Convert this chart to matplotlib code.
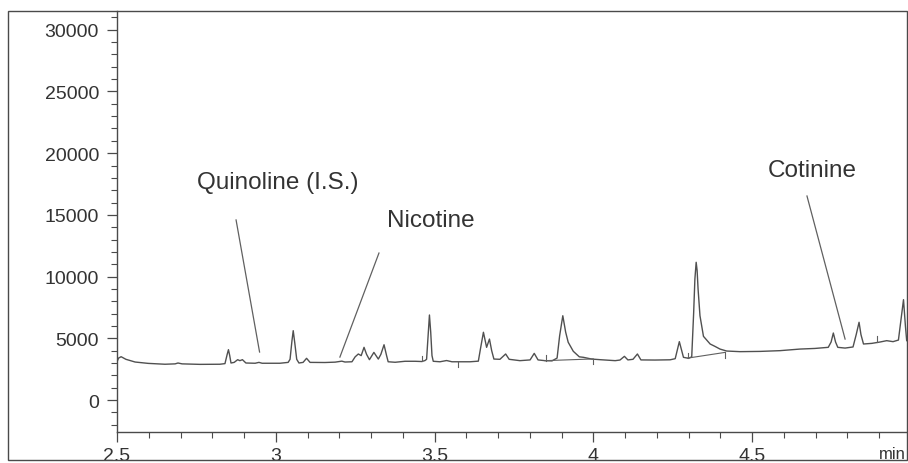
import matplotlib
matplotlib.use("Agg")
import matplotlib.pyplot as plt
from matplotlib.patches import Rectangle
from matplotlib.ticker import MultipleLocator

# detector trace, retention time (min) vs signal
rt = [2.500, 2.505, 2.513, 2.528, 2.557, 2.598, 2.651, 2.683, 2.692, 2.705,
      2.761, 2.824, 2.840, 2.847, 2.851, 2.855, 2.859, 2.869, 2.880, 2.887,
      2.895, 2.906, 2.935, 2.947, 2.957, 3.013, 3.039, 3.045, 3.051, 3.055,
      3.060, 3.066, 3.073, 3.086, 3.097, 3.108, 3.155, 3.187, 3.208, 3.218,
      3.240, 3.250, 3.260, 3.269, 3.278, 3.286, 3.295, 3.309, 3.323, 3.331,
      3.341, 3.349, 3.354, 3.376, 3.407, 3.439, 3.460, 3.470, 3.475, 3.480,
      3.484, 3.488, 3.492, 3.496, 3.517, 3.538, 3.555, 3.612, 3.638, 3.645,
      3.654, 3.664, 3.673, 3.680, 3.687, 3.706, 3.724, 3.735, 3.769, 3.801,
      3.814, 3.826, 3.848, 3.870, 3.886, 3.894, 3.904, 3.913, 3.921, 3.937,
      3.956, 3.969, 3.995, 4.021, 4.069, 4.084, 4.098, 4.109, 4.125, 4.139,
      4.150, 4.194, 4.242, 4.258, 4.271, 4.284, 4.300, 4.310, 4.316, 4.320,
      4.324, 4.327, 4.330, 4.336, 4.347, 4.368, 4.383, 4.399, 4.420, 4.462,
      4.525, 4.588, 4.651, 4.698, 4.740, 4.749, 4.756, 4.763, 4.770, 4.793,
      4.818, 4.828, 4.837, 4.843, 4.851, 4.877, 4.903, 4.924, 4.944, 4.961,
      4.969, 4.977, 4.983, 4.987, 4.991]
signal = [3100, 3400, 3510, 3300, 3080, 2970, 2900, 2930, 3000, 2930,
          2890, 2900, 2950, 3700, 4080, 3600, 3000, 3050, 3270, 3190,
          3270, 3000, 2980, 3050, 2980, 2980, 3050, 3300, 4800, 5620,
          4600, 3300, 3000, 3050, 3380, 3050, 3040, 3070, 3150, 3080,
          3100, 3500, 3730, 3600, 4270, 3700, 3270, 3860, 3320, 3700,
          4480, 3600, 3100, 3060, 3140, 3140, 3120, 3200, 3300, 5300,
          6890, 5500, 3600, 3140, 3100, 3200, 3100, 3100, 3150, 4200,
          5490, 4270, 4940, 4000, 3320, 3300, 3730, 3300, 3190, 3250,
          3780, 3250, 3190, 3170, 3400, 5200, 6830, 5500, 4680, 3950,
          3500, 3460, 3320, 3270, 3190, 3240, 3540, 3250, 3300, 3730,
          3250, 3240, 3260, 3350, 4730, 3460, 3380, 3500, 7000, 9800,
          11160, 10500, 9000, 6830, 5160, 4540, 4350, 4130, 3970, 3920,
          3940, 4000, 4130, 4180, 4270, 4700, 5430, 4700, 4270, 4210,
          4300, 5300, 6300, 5300, 4540, 4590, 4700, 4810, 4730, 4860,
          6500, 8130, 6000, 4810, 4750]

# integration baselines drawn under the tailing peaks
base_rt = [[3.848, 4.000], [4.298, 4.415]]
base_sig = [[3190, 3330], [3400, 3860]]

# integration event marks: time, signal at mark, +1 up / -1 down
event_rt = [3.460, 3.573, 3.852, 4.000, 4.298, 4.415, 4.892]
event_sig = [3130, 3100, 3190, 3330, 3400, 3860, 4700]
event_dir = [1, -1, 1, -1, 1, -1, 1]

# peak labels: text position, leader line start and end
labels = ["Quinoline (I.S.)", "Nicotine", "Cotinine"]
label_xy = [(2.752, 17670), (3.350, 14590), (4.550, 18640)]
leader_top = [(2.875, 14590), (3.325, 11910), (4.673, 16530)]
leader_end = [(2.949, 3890), (3.202, 3480), (4.793, 4940)]

W, H = 908, 464
fig = plt.figure(figsize=(W / 100, H / 100), dpi=100)
ax = fig.add_axes([117 / W, (H - 433) / H, (907 - 117) / W, (433 - 12) / H])

ink = "#4a4a4a"
ax.plot(rt, signal, color="#505050", lw=1.0)
for bx, by in zip(base_rt, base_sig):
    ax.plot(bx, by, color="#606060", lw=0.8)
for ex, ey, ed in zip(event_rt, event_sig, event_dir):
    ax.plot([ex, ex], [ey, ey + ed * 450], color="#606060", lw=0.8)

for txt, (tx, ty), p0, p1 in zip(labels, label_xy, leader_top, leader_end):
    ax.text(tx, ty, txt, fontsize=17.5, family="Liberation Sans",
            color="#333333", va="center", ha="left")
    ax.plot([p0[0], p1[0]], [p0[1], p1[1]], color="#606060", lw=0.9)

ax.set_xlim(2.5, 4.988)
ax.set_ylim(-2590, 31520)
ax.xaxis.set_minor_locator(MultipleLocator(0.1))
ax.yaxis.set_major_locator(MultipleLocator(5000))
ax.yaxis.set_minor_locator(MultipleLocator(1000))
ax.set_xticks([2.5, 3, 3.5, 4, 4.5])
ax.set_xticklabels(["2.5", "3", "3.5", "4", "4.5"])
ax.tick_params(which="major", length=7, width=0.9, color=ink,
               labelsize=14, labelcolor="#333333", pad=4)
ax.tick_params(axis="y", which="major", pad=6)
ax.tick_params(which="minor", length=4, width=0.8, color=ink)
for lab in ax.get_xticklabels() + ax.get_yticklabels():
    lab.set_family("Liberation Sans")

for side in ["top", "right"]:
    ax.spines[side].set_visible(False)
for side in ["left", "bottom"]:
    ax.spines[side].set_color(ink)
    ax.spines[side].set_linewidth(1.0)

fig.text(879 / W, (H - 455) / H, "min", fontsize=12, family="Liberation Sans",
         color="#333333", ha="left", va="center")

# outer frame around the whole chromatogram
fig.add_artist(Rectangle((8 / W, (H - 461) / H), (907 - 8) / W, (461 - 12) / H,
                         transform=fig.transFigure, fill=False,
                         edgecolor=ink, lw=1.0))

fig.savefig("out.png", dpi=100)
